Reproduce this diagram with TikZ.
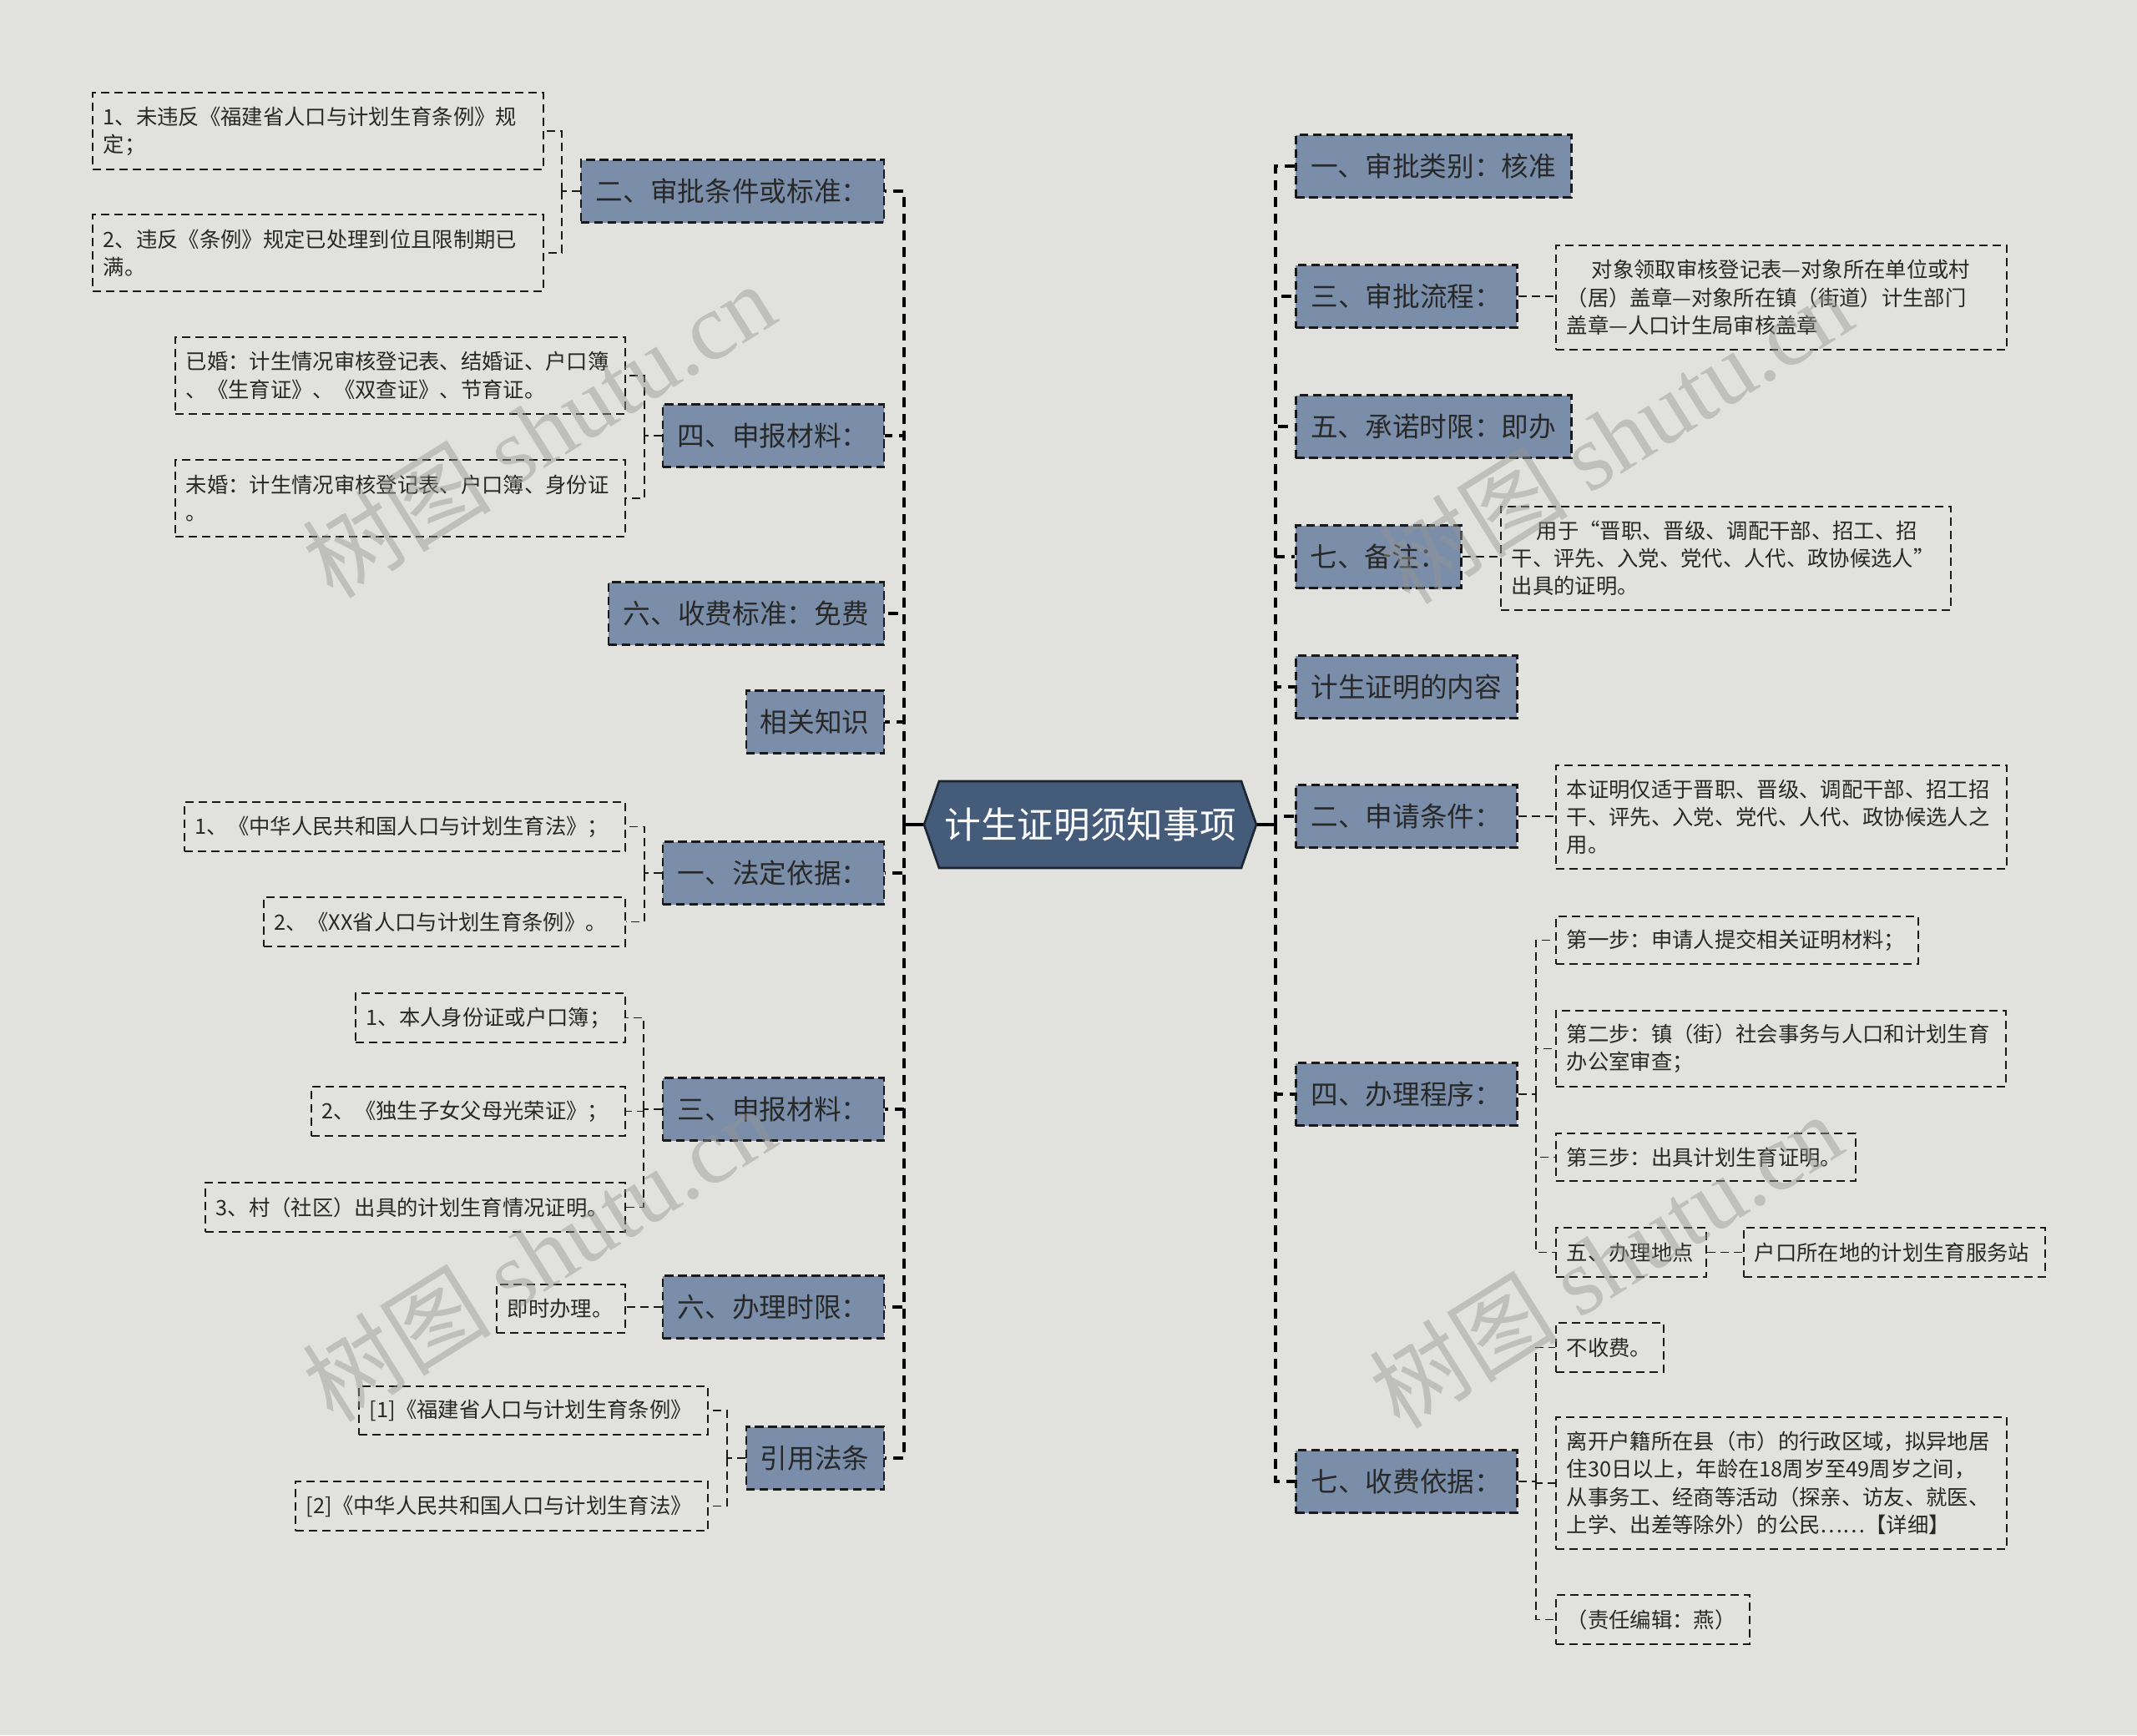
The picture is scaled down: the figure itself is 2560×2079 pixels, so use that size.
\documentclass[tikz,border=0pt]{standalone}
\usepackage{fontspec}
\setmainfont{Noto Sans CJK SC}
\newfontfamily\wmlatin{Liberation Serif}
\usetikzlibrary{calc}
\definecolor{bgc}{RGB}{225,226,221}
\definecolor{brfill}{RGB}{122,142,170}
\definecolor{ctfill}{RGB}{69,91,122}
\definecolor{ctline}{RGB}{28,39,51}
\definecolor{txt}{RGB}{40,40,40}
\definecolor{wmc}{RGB}{150,150,146}
\tikzset{
 branch/.style={draw=black!90, line width=0.75pt, dash pattern=on 3.2pt off 1.6pt, fill=brfill, text=txt, minimum height=22.5pt, inner xsep=0pt, inner ysep=0pt, font=\fontsize{9.8}{11}\selectfont},
 leaf/.style={draw=black!90, line width=0.55pt, dash pattern=on 3pt off 1.8pt, text=txt, inner xsep=3.9pt, inner ysep=2pt, align=left, anchor=north west, font=\fontsize{7.6}{9.95}\selectfont},
 trunk/.style={draw=black, line width=0.95pt, dash pattern=on 3.6pt off 2.4pt},
 sub/.style={draw=black!90, line width=0.55pt, dash pattern=on 3pt off 1.8pt},
 wmark/.style={rotate=32, text=wmc, opacity=0.45, font=\fontsize{34}{36}\selectfont},
}
\begin{document}
\begin{tikzpicture}[x=0.3pt, y=-0.3pt]
\fill[bgc] (0,0) rectangle (2560,2079);
\useasboundingbox (0,0) rectangle (2560,2079);

% center
\fill[ctfill, draw=ctline, line width=0.8pt] (1107,988) -- (1125,936) -- (1487,936) -- (1505,988) -- (1487,1040) -- (1125,1040) -- cycle;
\node[text=white, font=\fontsize{13.1}{15}\selectfont, minimum width=119.4pt, minimum height=31.2pt, inner sep=0pt] (c) at (1306,988) {计生证明须知事项};

% left branches
\node[branch, anchor=east, minimum width=108.9pt] (L1) at (1060,229) {二、审批条件或标准：};
\node[branch, anchor=east, minimum width=79.5pt] (L2) at (1060,522) {四、申报材料：};
\node[branch, anchor=east, minimum width=99pt] (L3) at (1060,735) {六、收费标准：免费};
\node[branch, anchor=east, minimum width=49.5pt] (L4) at (1060,865) {相关知识};
\node[branch, anchor=east, minimum width=79.5pt] (L5) at (1060,1046) {一、法定依据：};
\node[branch, anchor=east, minimum width=79.5pt] (L6) at (1060,1329) {三、申报材料：};
\node[branch, anchor=east, minimum width=79.5pt] (L7) at (1060,1566) {六、办理时限：};
\node[branch, anchor=east, minimum width=49.5pt] (L8) at (1060,1747) {引用法条};

% right branches
\node[branch, anchor=west, minimum width=99pt] (R1) at (1551,199) {一、审批类别：核准};
\node[branch, anchor=west, minimum width=79.5pt] (R2) at (1551,355) {三、审批流程：};
\node[branch, anchor=west, minimum width=99pt] (R3) at (1551,511) {五、承诺时限：即办};
\node[branch, anchor=west, minimum width=59.4pt] (R4) at (1551,667) {七、备注：};
\node[branch, anchor=west, minimum width=79.5pt] (R5) at (1551,823) {计生证明的内容};
\node[branch, anchor=west, minimum width=79.5pt] (R6) at (1551,978) {二、申请条件：};
\node[branch, anchor=west, minimum width=79.5pt] (R7) at (1551,1311) {四、办理程序：};
\node[branch, anchor=west, minimum width=79.5pt] (R8) at (1551,1775) {七、收费依据：};

% trunks
\coordinate (tl) at (1083,988);
\coordinate (tr) at (1528,988);
\draw[line width=0.95pt] (c.west) -- (tl);
\draw[line width=0.95pt] (c.east) -- (tr);
\foreach \n in {L1,L2,L3,L4,L5,L6,L7,L8} \draw[trunk] (tl) |- (\n.east);
\foreach \n in {R1,R2,R3,R4,R5,R6,R7,R8} \draw[trunk] (tr) |- (\n.west);

% left leaves
\node[leaf, text width=154.2pt, minimum height=27.6pt] (LA1) at (110,110) {1、未违反《福建省人口与计划生育条例》规\\定；};
\node[leaf, text width=154.2pt, minimum height=27.6pt] (LA2) at (110,256) {2、违反《条例》规定已处理到位且限制期已\\满。};
\node[leaf, text width=153.9pt, minimum height=27.6pt] (LB1) at (209,403) {已婚：计生情况审核登记表、结婚证、户口簿\\、《生育证》、《双查证》、节育证。};
\node[leaf, text width=153.9pt, minimum height=27.6pt] (LB2) at (209,550) {未婚：计生情况审核登记表、户口簿、身份证\\。};
\node[leaf, text width=150.6pt, minimum height=17.7pt] (LE1) at (220,960) {1、《中华人民共和国人口与计划生育法》；};
\node[leaf, text width=122.1pt, minimum height=17.7pt] (LE2) at (315,1074) {2、《XX省人口与计划生育条例》。};
\node[leaf, text width=89.1pt, minimum height=17.7pt] (LF1) at (425,1189) {1、本人身份证或户口簿；};
\node[leaf, text width=105pt, minimum height=17.7pt] (LF2) at (372,1301) {2、《独生子女父母光荣证》；};
\node[leaf, text width=143.1pt, minimum height=17.7pt] (LF3) at (245,1416) {3、村（社区）出具的计划生育情况证明。};
\node[leaf, text width=38.4pt, minimum height=17.4pt] (LG1) at (594,1538) {即时办理。};
\node[leaf, text width=117.6pt, minimum height=17.4pt] (LH1) at (429,1660) {[1]《福建省人口与计划生育条例》};
\node[leaf, text width=140.4pt, minimum height=17.7pt] (LH2) at (353,1774) {[2]《中华人民共和国人口与计划生育法》};

% right leaves
\node[leaf, text width=154.2pt, minimum height=37.5pt] (RB1) at (1863,293) {\hspace*{9pt}对象领取审核登记表—对象所在单位或村\\（居）盖章—对象所在镇（街道）计生部门\\盖章—人口计生局审核盖章};
\node[leaf, text width=153.9pt, minimum height=37.2pt] (RD1) at (1797,606) {\hspace*{9pt}用于“晋职、晋级、调配干部、招工、招\\干、评先、入党、党代、人代、政协候选人”\\出具的证明。};
\node[leaf, text width=154.2pt, minimum height=37.2pt] (RF1) at (1863,916) {本证明仅适于晋职、晋级、调配干部、招工招\\干、评先、入党、党代、人代、政协候选人之\\用。};
\node[leaf, text width=122.4pt, minimum height=17.1pt] (RG1) at (1863,1097) {第一步：申请人提交相关证明材料；};
\node[leaf, text width=153.9pt, minimum height=27.3pt] (RG2) at (1863,1210) {第二步：镇（街）社会事务与人口和计划生育\\办公室审查；};
\node[leaf, text width=99.9pt, minimum height=17.1pt] (RG3) at (1863,1357) {第三步：出具计划生育证明。};
\node[leaf, text width=46.2pt, minimum height=17.7pt] (RG4) at (1863,1470) {五、办理地点};
\node[leaf, text width=100.5pt, minimum height=17.7pt] (RG5) at (2088,1470) {户口所在地的计划生育服务站};
\node[leaf, text width=30.9pt, minimum height=17.7pt] (RH1) at (1863,1584) {不收费。};
\node[leaf, text width=154.2pt, minimum height=47.4pt] (RH2) at (1863,1697) {离开户籍所在县（市）的行政区域，拟异地居\\住30日以上，年龄在18周岁至49周岁之间，\\从事务工、经商等活动（探亲、访友、就医、\\上学、出差等除外）的公民……【详细】};
\node[leaf, text width=61.8pt, minimum height=17.7pt] (RH3) at (1863,1910) {（责任编辑：燕）};

% sub connectors left
\coordinate (s1) at (673,229);
\draw[sub] (L1.west) -- (s1);
\draw[sub] (s1) |- (LA1.east);
\draw[sub] (s1) |- (LA2.east);
\coordinate (s2) at (772,522);
\draw[sub] (L2.west) -- (s2);
\draw[sub] (s2) |- (LB1.east);
\draw[sub] (s2) |- (LB2.east);
\coordinate (s5) at (772,1046);
\draw[sub] (L5.west) -- (s5);
\draw[sub] (s5) |- (LE1.east);
\draw[sub] (s5) |- (LE2.east);
\coordinate (s6) at (771,1329);
\draw[sub] (L6.west) -- (s6);
\draw[sub] (s6) |- (LF1.east);
\draw[sub] (s6) |- (LF2.east);
\draw[sub] (s6) |- (LF3.east);
\draw[sub] (L7.west) -- (L7.west -| LG1.east);
\coordinate (s8) at (871,1747);
\draw[sub] (L8.west) -- (s8);
\draw[sub] (s8) |- (LH1.east);
\draw[sub] (s8) |- (LH2.east);

% sub connectors right
\draw[sub] (R2.east) -- (R2.east -| RB1.west);
\draw[sub] (R4.east) -- (R4.east -| RD1.west);
\draw[sub] (R6.east) -- (R6.east -| RF1.west);
\coordinate (s7) at (1840,1311);
\draw[sub] (R7.east) -- (s7);
\draw[sub] (s7) |- (RG1.west);
\draw[sub] (s7) |- (RG2.west);
\draw[sub] (s7) |- (RG3.west);
\draw[sub] (s7) |- (RG4.west);
\draw[sub] (RG4.east) -- (RG5.west);
\coordinate (s9) at (1840,1775);
\draw[sub] (R8.east) -- (s9);
\draw[sub] (s9) |- (RH1.west);
\draw[sub] (s9) |- (RH2.west);
\draw[sub] (s9) |- (RH3.west);

% watermarks
\node[wmark] (wm1) at (645,515) {树图 {\wmlatin shutu.cn}};
\node[wmark] (wm2) at (1935,522) {树图 {\wmlatin shutu.cn}};
\node[wmark] (wm3) at (645,1502) {树图 {\wmlatin shutu.cn}};
\node[wmark] (wm4) at (1923,1510) {树图 {\wmlatin shutu.cn}};
\end{tikzpicture}
\end{document}
